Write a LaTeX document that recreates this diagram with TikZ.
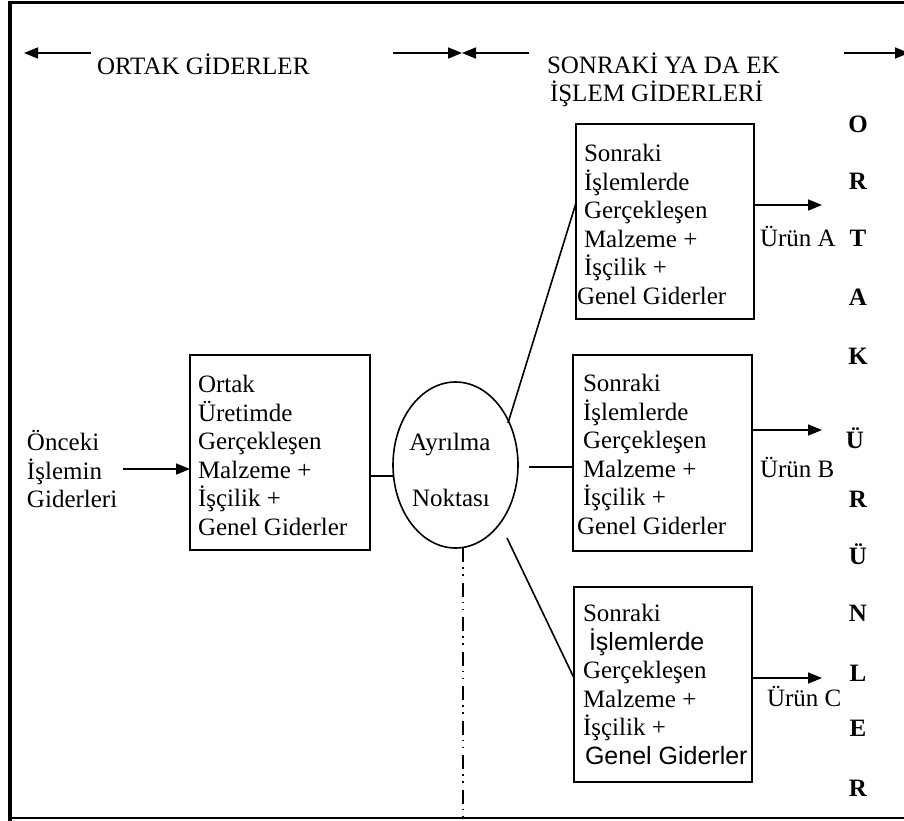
\documentclass[tikz,border=0pt]{standalone}
\usepackage{fontspec}
\setmainfont{Liberation Serif}
\newfontfamily\arialfont{Liberation Sans}
\usetikzlibrary{arrows.meta,shapes.geometric}
\newcommand\tblock[1]{\vtop{\baselineskip=28.5pt\lineskiplimit=-50pt\lineskip=0pt #1}}
\begin{document}
\begin{tikzpicture}[x=1pt,y=-1pt,
  every node/.style={inner sep=0pt,outer sep=0pt,font=\fontsize{25}{28.5}\selectfont},
  txt/.style={anchor=base west},
  ctxt/.style={anchor=base},
  box/.style={draw,line width=2pt,rectangle},
  conn/.style={line width=1.6pt},
  arr/.style={line width=1.6pt,-{Triangle[length=14pt,width=11pt]}},
  vletter/.style={anchor=base,font=\fontsize{25}{28.5}\selectfont\bfseries},
  dashdot/.style={line width=1.6pt,dash pattern=on 14pt off 5pt on 1.5pt off 5.5pt on 1.5pt off 7pt}]
\useasboundingbox (0,0) rectangle (904,820);
\clip (0,0) rectangle (904,820);
\fill[white] (0,0) rectangle (904,820);
% frame
\draw[line width=3.5pt] (10,830) -- (10,2);
\draw[line width=3pt] (8,2) -- (920,2);
\draw[line width=2pt] (8,818) -- (920,818);
% header
\coordinate (h1s) at (91,53);  \coordinate (h1e) at (24,53);
\coordinate (h2s) at (393,53); \coordinate (h2e) at (462,53);
\coordinate (h3s) at (529,53); \coordinate (h3e) at (462,53);
\coordinate (h4s) at (844,53); \coordinate (h4e) at (909,53);
\draw[arr] (h1s) -- (h1e);
\draw[arr] (h2s) -- (h2e);
\draw[arr] (h3s) -- (h3e);
\draw[arr] (h4s) -- (h4e);
\node[txt] (ortakg) at (97,74) {ORTAK GİDERLER};
\node[txt] (sonrakig) at (547,73) {\tblock{\hbox{SONRAKİ YA DA EK}\hbox{\kern3pt İŞLEM GİDERLERİ}}};
% input text
\node[txt] (onceki) at (27,450.5) {\tblock{\hbox{Önceki}\hbox{İşlemin}\hbox{Giderleri}}};
% boxes
\node[box,minimum width=180pt,minimum height=195pt] (boxO) at (280,452.5) {};
\node[txt] (boxOt) at (198,392.5) {\tblock{\hbox{Ortak}\hbox{Üretimde}\hbox{Gerçekleşen}\hbox{Malzeme +}\hbox{İşçilik +}\hbox{Genel Giderler}}};
\node[box,minimum width=178pt,minimum height=195pt] (boxA) at (665,221.5) {};
\node[txt] (boxAt) at (584,161.5) {\tblock{\hbox{Sonraki}\hbox{İşlemlerde}\hbox{Gerçekleşen}\hbox{Malzeme +}\hbox{İşçilik +}\hbox{\kern-7pt Genel Giderler}}};
\node[box,minimum width=179pt,minimum height=196pt] (boxB) at (662.5,453) {};
\node[txt] (boxBt) at (583,391.5) {\tblock{\hbox{Sonraki}\hbox{İşlemlerde}\hbox{Gerçekleşen}\hbox{Malzeme +}\hbox{İşçilik +}\hbox{\kern-6pt Genel Giderler}}};
\node[box,minimum width=178pt,minimum height=195pt] (boxC) at (663,684.5) {};
\node[txt] (boxCt) at (583,621.5) {\tblock{\hbox{Sonraki}\hbox{\kern6pt{\arialfont İşlemlerde}}\hbox{Gerçekleşen}\hbox{Malzeme +}\hbox{İşçilik +}\hbox{\kern2pt{\arialfont Genel Giderler}}}};
% split point
\node[draw,ellipse,line width=1.6pt,minimum width=125pt,minimum height=166pt] (split) at (455.5,465) {};
\node[ctxt] (ayr) at (450,450) {Ayrılma};
\node[ctxt] (nok) at (451,506) {Noktası};
% connectors
\coordinate (inO) at (123,469);
\draw[arr] (inO) -- (inO -| boxO.west);
\coordinate (j1) at (0,476);
\draw[conn] (boxO.east |- j1) -- (split.west |- j1);
\coordinate (sA) at (508,423); \coordinate (aIn) at (0,203);
\draw[conn] (sA) -- (boxA.west |- aIn);
\coordinate (sB) at (529,467);
\draw[conn] (sB) -- (sB -| boxB.west);
\coordinate (sC) at (507,538); \coordinate (cIn) at (0,678);
\draw[conn] (sC) -- (boxC.west |- cIn);
\coordinate (dd) at (463,818);
\draw[dashdot] (dd |- split.south) -- (dd);
% outputs
\coordinate (pA) at (822,205); \coordinate (pB) at (822,430); \coordinate (pC) at (822,678);
\draw[arr] (boxA.east |- pA) -- (pA);
\draw[arr] (boxB.east |- pB) -- (pB);
\draw[arr] (boxC.east |- pC) -- (pC);
\node[txt] (urunA) at (760,246.5) {Ürün A};
\node[txt] (urunB) at (760,477.5) {Ürün B};
\node[txt] (urunC) at (767,706.5) {Ürün C};
% vertical letters
\node[vletter] (v1) at (858,132.5) {O};
\node[vletter] (v2) at (858,189.5) {R};
\node[vletter] (v3) at (858,246.5) {T};
\node[vletter] (v4) at (858,305.5) {A};
\node[vletter] (v5) at (858,364.5) {K};
\node[vletter] (v6) at (855,448) {Ü};
\node[vletter] (v7) at (858,507) {R};
\node[vletter] (v8) at (858,564) {Ü};
\node[vletter] (v9) at (858,621.5) {N};
\node[vletter] (v10) at (858,681.5) {L};
\node[vletter] (v11) at (858,736.5) {E};
\node[vletter] (v12) at (858,796.5) {R};
\end{tikzpicture}
\end{document}
